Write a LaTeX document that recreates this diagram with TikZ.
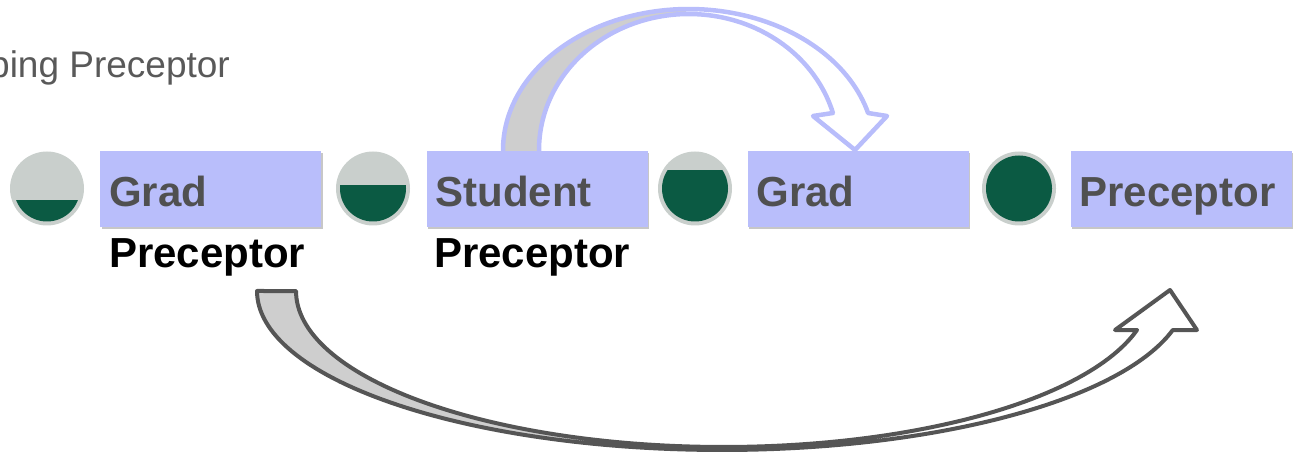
\documentclass[tikz,border=0pt]{standalone}
\usepackage{fontspec}
\setmainfont{Liberation Sans}
\usetikzlibrary{shadows}
\definecolor{boxblue}{RGB}{185,190,251}
\definecolor{dgreen}{RGB}{11,90,67}
\definecolor{ringgray}{RGB}{201,207,204}
\definecolor{txtgray}{RGB}{80,80,80}
\definecolor{titlegray}{RGB}{89,89,89}
\definecolor{arrowgray}{RGB}{85,85,85}
\definecolor{bandgray}{RGB}{206,206,206}
\definecolor{lav}{RGB}{184,189,251}
\begin{document}
\begin{tikzpicture}[x=1pt,y=-1pt,
  box/.style={rectangle, fill=boxblue, minimum width=221pt, minimum height=76pt,
    inner xsep=9pt, inner ysep=0pt, text width=203pt, align=left,
    text height=37pt, text depth=1pt, font=\fontsize{42}{50}\selectfont\bfseries,
    text=txtgray,
    drop shadow={shadow xshift=1.5pt, shadow yshift=-2.5pt, opacity=0.22, fill=black}},
  dot/.style={circle, fill=ringgray, minimum size=74pt, inner sep=0pt},
  lbl/.style={anchor=base west, inner sep=0pt, font=\fontsize{42}{50}\selectfont\bfseries, text=black},
  botline/.style={draw=arrowgray, line width=4pt, line join=round},
  topline/.style={draw=lav, line width=4.5pt, line join=round}]
\useasboundingbox (0,0) rectangle (1293,462);
\clip (0,0) rectangle (1293,462);

% title (cut at the left edge, as in the reference)
\node[anchor=base west, inner sep=0pt, font=\fontsize{37}{44}\selectfont, text=titlegray] (title) at (-11,78) {ping Preceptor};

% top curved arrow
\begin{scope}
  \clip (0,0) rectangle (686,160);
  \fill[bandgray] (503,156) -- plot[domain=180:15.2, samples=90, variable=\t] ({688.8+185.8*cos(\t)},{150-141*sin(\t)})
    -- (887,116) -- (855,150) -- (813,116) -- (832.9,113)
    -- plot[domain=15.8:180, samples=90, variable=\t] ({688.8+149.8*cos(\t)},{150-136*sin(\t)})
    -- (539,156) -- cycle;
\end{scope}
\draw[topline] (503,156) -- plot[domain=180:15.2, samples=90, variable=\t] ({688.8+185.8*cos(\t)},{150-141*sin(\t)})
    -- (887,116) -- (855,150) -- (813,116) -- (832.9,113)
    -- plot[domain=15.8:180, samples=90, variable=\t] ({688.8+149.8*cos(\t)},{150-136*sin(\t)})
    -- (539,156) -- cycle;

% circles
\node[dot] (c1) at (47,188.5) {};
\node[dot] (c2) at (373,188.5) {};
\node[dot] (c3) at (695,188.5) {};
\node[dot] (c4) at (1019,188.5) {};
\begin{scope}
  \clip (c1.center) circle[radius=33pt];
  \fill[dgreen] (0,200) rectangle (100,240);
\end{scope}
\begin{scope}
  \clip (c2.center) circle[radius=33pt];
  \fill[dgreen] (320,185) rectangle (430,240);
\end{scope}
\begin{scope}
  \clip (c3.center) circle[radius=33pt];
  \fill[dgreen] (640,170) rectangle (750,240);
\end{scope}
\fill[dgreen] (c4.center) circle[radius=33pt];

% boxes
\node[box] (b1) at (210.5,189) {Grad};
\node[box] (b2) at (537,189) {Student};
\node[box] (b3) at (858,189) {Grad};
\node[box] (b4) at (1181,189) {Preceptor};

% labels
\node[lbl] (l1) at (109,268) {Preceptor};
\node[lbl] (l2) at (434,268) {Preceptor};

% bottom curved arrow
\begin{scope}
  \clip (0,280) rectangle (700,462);
  \fill[bandgray] plot[domain=180:14.2, samples=120, variable=\t] ({722+465*cos(\t)},{291+159*sin(\t)})
    -- (1197,330) -- (1170,290) -- (1115,330) -- (1137,330)
    -- plot[domain=14.48:180, samples=120, variable=\t] ({723.3+427.3*cos(\t)},{291+156*sin(\t)})
    -- cycle;
\end{scope}
\draw[botline] plot[domain=180:14.2, samples=120, variable=\t] ({722+465*cos(\t)},{291+159*sin(\t)})
    -- (1197,330) -- (1170,290) -- (1115,330) -- (1137,330)
    -- plot[domain=14.48:180, samples=120, variable=\t] ({723.3+427.3*cos(\t)},{291+156*sin(\t)})
    -- cycle;
\end{tikzpicture}
\end{document}
